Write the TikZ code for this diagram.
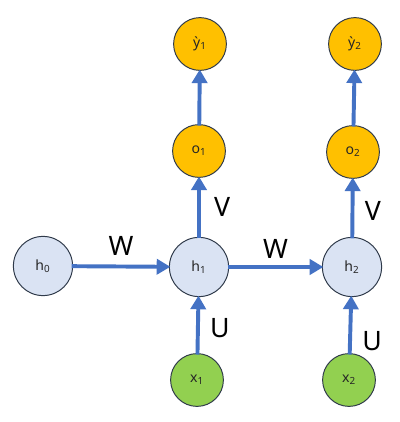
\documentclass[tikz,border=0pt]{standalone}
\usepackage{fontspec}
\setmainfont{Noto Sans}
\usetikzlibrary{arrows.meta}
\definecolor{rnnblue}{HTML}{4472C4}
\definecolor{hidfill}{HTML}{DAE3F3}
\definecolor{outfill}{HTML}{FFC000}
\definecolor{infill}{HTML}{92D050}
\definecolor{rim}{HTML}{2F3A4A}

\begin{document}
\begin{tikzpicture}[
  >={Triangle[length=3.4mm, width=3.8mm]},
  unit/.style={
    circle, draw=rim, line width=0.7pt, fill=#1, inner sep=0pt,
    minimum size=13.2mm, font=\normalsize, text=black!85
  },
  hid/.style={unit=hidfill, minimum size=14.8mm},
  link/.style={->, line width=2.8pt, rnnblue, shorten <=-1pt, shorten >=-1pt},
  wgt/.style={font=\fontsize{19}{19}\selectfont, text=black},
]

% Frame
\useasboundingbox (0,0) rectangle (10,10.55);

% Hidden states
\node[hid] (h0) at (1.075,3.9) {h\textsubscript{0}};
\node[hid] (h1) at (4.975,3.875) {h\textsubscript{1}};
\node[hid] (h2) at (8.8,3.875) {h\textsubscript{2}};

% Inputs
\node[unit=infill] (x1) at (4.925,1.05) {x\textsubscript{1}};
\node[unit=infill] (x2) at (8.725,1.05) {x\textsubscript{2}};

% Outputs
\node[unit=outfill] (o1) at (4.975,6.775) {o\textsubscript{1}};
\node[unit=outfill] (o2) at (8.825,6.75) {o\textsubscript{2}};
\node[unit=outfill] (y1) at (5.0,9.45) {ỳ\textsubscript{1}};
\node[unit=outfill] (y2) at (8.875,9.45) {ỳ\textsubscript{2}};

% Arrows
\draw[link] (h0) -- (h1) node[midway, above, wgt, yshift=3pt] {W};
\draw[link] (h1) -- (h2) node[midway, above, wgt, yshift=1pt] {W};

\draw[link] (h1) -- (o1) node[midway, right, wgt, xshift=6pt] {V};
\draw[link] (h2) -- (o2) node[pos=0.45, right, wgt, xshift=4pt] {V};

\draw[link] (o1) -- (y1);
\draw[link] (o2) -- (y2);

\draw[link] (x1) -- (h1) node[pos=0.45, right, wgt, xshift=4pt] {U};
\draw[link] (x2) -- (h2) node[pos=0.22, right, wgt, xshift=4pt] {U};

\end{tikzpicture}
\end{document}
